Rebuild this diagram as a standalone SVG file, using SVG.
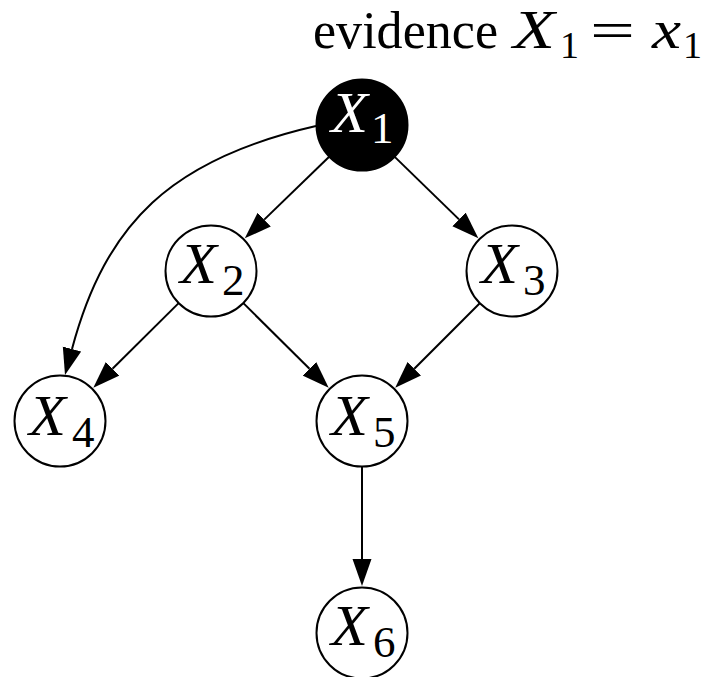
<svg xmlns="http://www.w3.org/2000/svg" width="708" height="677" viewBox="0 0 708 677">
  <style>
    .node circle { fill: #ffffff; stroke: #000000; stroke-width: 2; }
    #X1 circle { fill: #000000; }
    .var { font-family: "Liberation Serif", "DejaVu Serif", serif; font-style: italic; font-size: 56px; fill: #000000; }
    .sub { font-family: "Liberation Serif", "DejaVu Serif", serif; font-size: 45px; fill: #000000; }
    #X1 text { fill: #ffffff; }
    .edge { fill: none; stroke: #000000; stroke-width: 2; marker-end: url(#arrow); }
    .title { font-family: "Liberation Serif", "DejaVu Serif", serif; font-size: 52px; fill: #000000; }
    .title-i { font-style: italic; font-size: 54px; }
    .title-sub { font-size: 38px; }
  </style>
  <defs>
    <marker id="arrow" viewBox="0 -10 28 20" refX="0" refY="0" markerWidth="28" markerHeight="20" markerUnits="userSpaceOnUse" orient="auto">
      <path d="M0,-9.5 L27,0 L0,9.5 Z" fill="#000000"/>
    </marker>
  </defs>

  <g id="title">
    <text class="title" x="313" y="48" textLength="185" lengthAdjust="spacingAndGlyphs">evidence</text>
    <text class="title title-i" x="513" y="48" textLength="42" lengthAdjust="spacingAndGlyphs">X</text>
    <text class="title title-sub" x="560" y="58">1</text>
    <text class="title" x="590" y="48" textLength="45" lengthAdjust="spacingAndGlyphs">=</text>
    <text class="title title-i" x="652" y="48" textLength="29" lengthAdjust="spacingAndGlyphs">x</text>
    <text class="title title-sub" x="683" y="58">1</text>
  </g>

  <g id="edges">
    <path class="edge" d="M328.9,157.0 L264.2,219.6"/>
    <path class="edge" d="M395.0,157.1 L459.0,219.4"/>
    <path class="edge" d="M316,126 C171,159 105.7,223.4 72,349"/>
    <path class="edge" d="M178.4,303.4 L112.5,368.8"/>
    <path class="edge" d="M243.6,303.4 L309.5,368.8"/>
    <path class="edge" d="M479.5,303.5 L414.3,368.7"/>
    <path class="edge" d="M362,467 L362,559"/>
  </g>

  <g id="X1" class="node">
    <circle cx="362" cy="125" r="45.5"/>
    <text class="var" x="331" y="132" textLength="37" lengthAdjust="spacingAndGlyphs">X</text>
    <text class="sub" x="371" y="143">1</text>
  </g>
  <g id="X2" class="node">
    <circle cx="211" cy="271" r="45.5"/>
    <text class="var" x="180" y="283" textLength="37" lengthAdjust="spacingAndGlyphs">X</text>
    <text class="sub" x="222" y="295">2</text>
  </g>
  <g id="X3" class="node">
    <circle cx="512" cy="271" r="45.5"/>
    <text class="var" x="481" y="283" textLength="37" lengthAdjust="spacingAndGlyphs">X</text>
    <text class="sub" x="523" y="295">3</text>
  </g>
  <g id="X4" class="node">
    <circle cx="60" cy="421" r="45.5"/>
    <text class="var" x="29" y="435" textLength="37" lengthAdjust="spacingAndGlyphs">X</text>
    <text class="sub" x="72" y="447">4</text>
  </g>
  <g id="X5" class="node">
    <circle cx="362" cy="421" r="45.5"/>
    <text class="var" x="331" y="435" textLength="37" lengthAdjust="spacingAndGlyphs">X</text>
    <text class="sub" x="373" y="447">5</text>
  </g>
  <g id="X6" class="node">
    <circle cx="362" cy="633" r="45.5"/>
    <text class="var" x="331" y="645" textLength="37" lengthAdjust="spacingAndGlyphs">X</text>
    <text class="sub" x="373" y="657">6</text>
  </g>
</svg>
